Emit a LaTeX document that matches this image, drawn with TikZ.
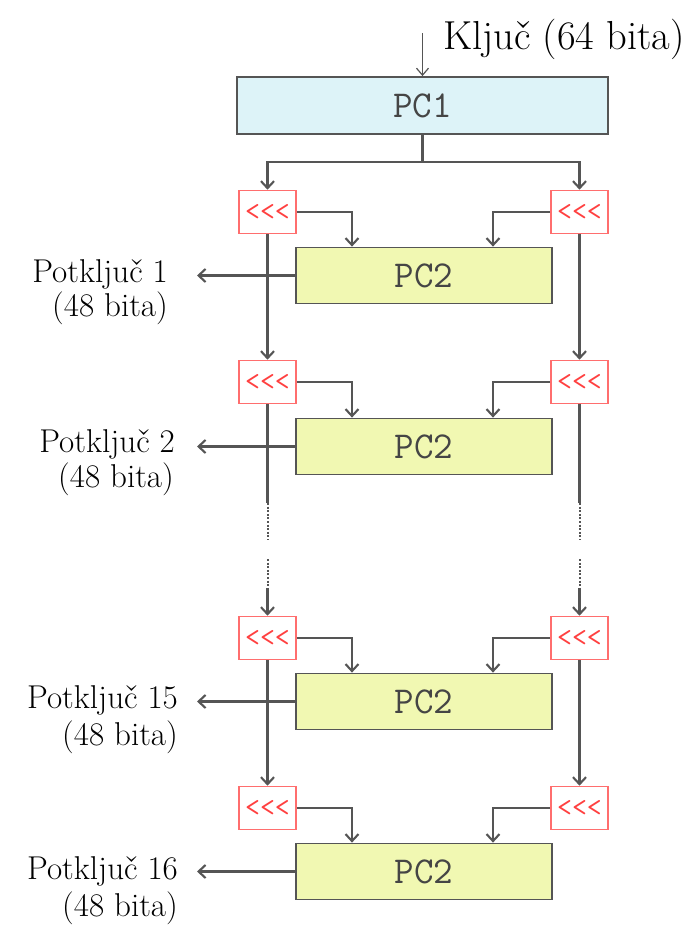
\documentclass[tikz,border=0pt]{standalone}
\usepackage{fontspec}
\usetikzlibrary{arrows.meta}
\definecolor{linegray}{HTML}{555555}
\definecolor{boxborder}{HTML}{555555}
\definecolor{pconefill}{HTML}{DDF3F8}
\definecolor{pctwofill}{HTML}{F1F8B2}
\definecolor{rotred}{HTML}{FF6E6E}
\definecolor{rottext}{HTML}{FF4040}
\definecolor{pctext}{HTML}{454545}
\begin{document}
\begin{tikzpicture}[x=1pt,y=-1pt,
  pcbox/.style={draw=boxborder, line width=1.8pt, inner sep=0pt,
    minimum width=256pt, minimum height=56pt, text=pctext,
    font=\ttfamily\fontsize{38}{38}\selectfont},
  rotbox/.style={draw=rotred, line width=1.6pt, fill=white, inner sep=0pt,
    minimum width=57pt, minimum height=43pt, text=rottext,
    font=\ttfamily\fontsize{29}{29}\selectfont},
  plain/.style={draw=linegray, line width=2.1pt},
  conn/.style={plain, -{Straight Barb[length=7pt,width=13pt]}},
  thinconn/.style={draw=linegray, line width=1.2pt, -{Straight Barb[length=7pt,width=12pt]}},
  dotline/.style={draw=linegray, line width=2pt, dash pattern=on 2pt off 1.6pt},
  lbl/.style={inner sep=0pt, anchor=base east, font=\fontsize{33}{33}\selectfont},
]
\useasboundingbox (0,0) rectangle (692,926);

% key
\node[inner sep=0pt, anchor=base west, font=\fontsize{40.5}{40.5}\selectfont] (key) at (443,49) {Ključ (64 bita)};
\coordinate (kin) at (422.5,33);

% PC1
\node[pcbox, fill=pconefill, minimum width=371pt, minimum height=57pt] (pc1) at (422.5,105.5) {PC1};
\coordinate (bus) at (422.5,162);

% rows
\foreach \n/\ry/\py in {A/212/275.5, B/382/446.5, C/638/701.5, D/808/871.5}{
  \node[rotbox] (rotL\n) at (267.5,\ry) {<<<};
  \node[rotbox] (rotR\n) at (579.5,\ry) {<<<};
  \node[pcbox, fill=pctwofill] (pc\n) at (424,\py) {PC2};
}
\coordinate (outx) at (197,0);

% labels
\node[lbl] (lA1) at (168,282) {Potključ 1};
\node[lbl] (lA2) at (168,316) {(48 bita)};
\node[lbl] (lB1) at (175,452) {Potključ 2};
\node[lbl] (lB2) at (174,487) {(48 bita)};
\node[lbl] (lC1) at (178,708) {Potključ 15};
\node[lbl] (lC2) at (178,745) {(48 bita)};
\node[lbl] (lD1) at (178,879) {Potključ 16};
\node[lbl] (lD2) at (178,916) {(48 bita)};

% key arrow and bus
\draw[thinconn] (kin) -- (pc1.north);
\draw[plain] (pc1.south) -- (bus);
\draw[conn] (bus) -| (rotLA.north);
\draw[conn] (bus) -| (rotRA.north);

% rotation to PC2, outputs
\foreach \n in {A,B,C,D}{
  \draw[conn] (rotL\n.east) -| ([xshift=-72pt]pc\n.north);
  \draw[conn] (rotR\n.west) -| ([xshift=69pt]pc\n.north);
  \draw[conn] (pc\n.west) -- (pc\n.west -| outx);
}

% verticals
\draw[conn] (rotLA.south) -- (rotLB.north);
\draw[conn] (rotRA.south) -- (rotRB.north);
\draw[conn] (rotLC.south) -- (rotLD.north);
\draw[conn] (rotRC.south) -- (rotRD.north);

% broken verticals
\foreach \s in {L,R}{
  \coordinate (d\s1) at (rot\s B.south |- 0,503);
  \coordinate (d\s2) at (rot\s B.south |- 0,540);
  \coordinate (d\s3) at (rot\s B.south |- 0,559);
  \coordinate (d\s4) at (rot\s B.south |- 0,588);
  \draw[plain] (rot\s B.south) -- (d\s1);
  \draw[dotline] (d\s1) -- (d\s2);
  \draw[dotline] (d\s3) -- (d\s4);
  \draw[conn] (d\s4) -- (rot\s C.north);
}
\end{tikzpicture}
\end{document}
